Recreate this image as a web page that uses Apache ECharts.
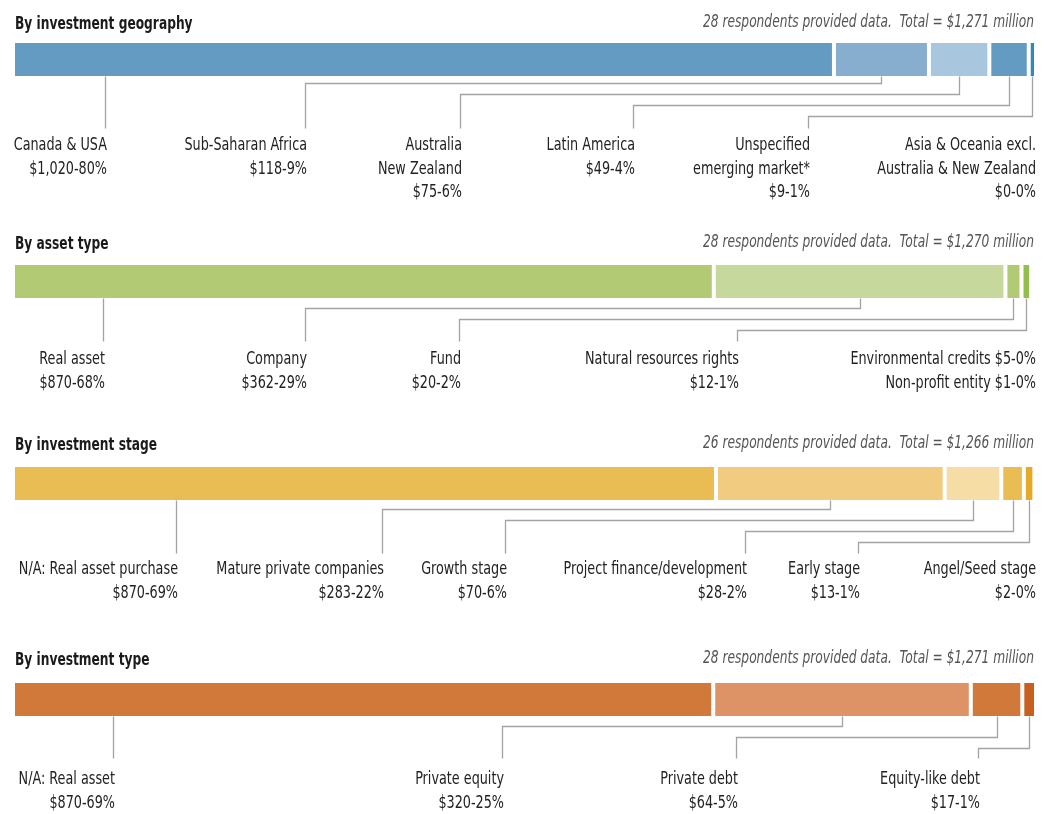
<!DOCTYPE html>
<html>
<head>
<meta charset="utf-8">
<script src="https://cdn.jsdelivr.net/npm/echarts@6/dist/echarts.min.js"></script>
<style>
  html, body { margin: 0; padding: 0; background: #fff; }
  #main { width: 1050px; height: 814px; }
</style>
</head>
<body>
<div id="main"></div>
<script>
// --- data ---
const geoNames = ['Canada & USA', 'Sub-Saharan Africa', 'Australia\nNew Zealand', 'Latin America', 'Unspecified\nemerging market*', 'Asia & Oceania excl.\nAustralia & New Zealand'];
const geoValues = [1020, 118, 75, 49, 9, 0];
const geoShares = [80, 9, 6, 4, 1, 0];

const assetNames = ['Real asset', 'Company', 'Fund', 'Natural resources rights', 'Environmental credits', 'Non-profit entity'];
const assetValues = [870, 362, 20, 12, 5, 1];
const assetShares = [68, 29, 2, 1, 0, 0];

const stageNames = ['N/A: Real asset purchase', 'Mature private companies', 'Growth stage', 'Project finance/development', 'Early stage', 'Angel/Seed stage'];
const stageValues = [870, 283, 70, 28, 13, 2];
const stageShares = [69, 22, 6, 2, 1, 0];

const typeNames = ['N/A: Real asset', 'Private equity', 'Private debt', 'Equity-like debt'];
const typeValues = [870, 320, 64, 17];
const typeShares = [69, 25, 5, 1];

const respondents = [28, 28, 26, 28];
const totals = [1271, 1270, 1266, 1271];

// --- styles / layout ---
const geoColors = ['#649bc3', '#87aecf', '#a9c6df', '#649bc3', '#2f89bc', '#2f89bc'];
const assetColors = ['#b2ca74', '#c6d89b', '#b2ca74', '#94bd4a', '#94bd4a', '#94bd4a'];
const stageColors = ['#eabc54', '#f0cb80', '#f6dca5', '#eabc54', '#e6ab26', '#e6ab26'];
const typeColors = ['#d1783b', '#de9366', '#d1783b', '#c6601e'];

// which segments share one label, and where each label sits (right edge, px)
const geoGroups = [[0], [1], [2], [3], [4], [5]];
const geoLabelX = [105, 305, 460, 633, 808, 1034];
const assetGroups = [[0], [1], [2], [3], [4, 5]];
const assetLabelX = [103, 305, 459, 737, 1034];
const stageGroups = [[0], [1], [2], [3], [4], [5]];
const stageLabelX = [176, 382, 505, 745, 858, 1034];
const typeGroups = [[0], [1], [2], [3]];
const typeLabelX = [113, 502, 736, 978];

// no condensed face installed -> squeeze DejaVu Sans Condensed a bit
const FONT = "'DejaVu Sans Condensed', 'Liberation Sans Narrow', sans-serif";
const LABEL_SX = 0.79, TITLE_SX = 0.755, SUB_SX = 0.80;
// bar border is drawn inside the rect, so 2px each side -> 4px white gap
const LEFT = 15, RIGHT = 1034, BAR_H = 33, BORDER = 2;

const panels = [
  { title: 'By investment geography', names: geoNames, values: geoValues, shares: geoShares, colors: geoColors,
    groups: geoGroups, labelX: geoLabelX, lastLine: false, titleTop: 12, barTop: 43, elbow0: 7, lineEnd: 128, textTop: 134 },
  { title: 'By asset type', names: assetNames, values: assetValues, shares: assetShares, colors: assetColors,
    groups: assetGroups, labelX: assetLabelX, lastLine: false, titleTop: 232, barTop: 265, elbow0: 10, lineEnd: 341, textTop: 348 },
  { title: 'By investment stage', names: stageNames, values: stageValues, shares: stageShares, colors: stageColors,
    groups: stageGroups, labelX: stageLabelX, lastLine: false, titleTop: 433, barTop: 467, elbow0: 9, lineEnd: 553, textTop: 558 },
  { title: 'By investment type', names: typeNames, values: typeValues, shares: typeShares, colors: typeColors,
    groups: typeGroups, labelX: typeLabelX, lastLine: true, titleTop: 648, barTop: 683, elbow0: 10, lineEnd: 758, textTop: 768 }
];

function money(v) { return '$' + v.toLocaleString('en-US'); }

const chart = echarts.init(document.getElementById('main'), null, { renderer: 'canvas' });

const grid = [], xAxis = [], yAxis = [], series = [], texts = [];

panels.forEach(function (p, i) {
  grid.push({ left: LEFT - BORDER, width: RIGHT - LEFT + 2 * BORDER, top: p.barTop - BORDER, height: BAR_H + 2 * BORDER });
  xAxis.push({ type: 'value', gridIndex: i, min: 0, max: totals[i], show: false });
  yAxis.push({ type: 'category', gridIndex: i, data: [''], show: false });

  texts.push({
    type: 'text', x: LEFT, y: p.titleTop + 3, scaleX: TITLE_SX,
    style: { text: p.title, font: 'bold 18px ' + FONT, fill: '#1a1a1a', verticalAlign: 'top' }
  });
  texts.push({
    type: 'text', x: RIGHT, y: p.titleTop + 2, scaleX: SUB_SX,
    style: {
      text: respondents[i] + ' respondents provided data.  Total = ' + money(totals[i]) + ' million',
      font: 'italic 17px ' + FONT, fill: '#555', align: 'right', verticalAlign: 'top'
    }
  });

  // stacked segments
  const starts = [];
  let acc = 0;
  p.values.forEach(function (v, k) {
    starts.push(acc);
    acc += v;
    series.push({
      type: 'bar', stack: 'p' + i, xAxisIndex: i, yAxisIndex: i,
      barWidth: '100%', silent: true,
      data: [v],
      itemStyle: { color: p.colors[k], borderColor: '#fff', borderWidth: BORDER }
    });
  });

  // leader lines and labels
  const items = p.groups.map(function (g) {
    const k = g[0];
    return [starts[k] + p.values[k] / 2, 0];
  });

  series.push({
    type: 'custom', xAxisIndex: i, yAxisIndex: i, clip: false, silent: true, z: 5,
    encode: { x: 0, y: 1 },
    data: items,
    renderItem: function (params, api) {
      const gi = params.dataIndex;
      const g = p.groups[gi];
      const lx = p.labelX[gi];
      const cs = params.coordSys;
      const bottom = cs.y + cs.height - BORDER;
      const children = [];
      const isLast = gi === p.groups.length - 1;
      const k0 = g[0];
      const segStart = api.coord([starts[k0], 0])[0];
      const segEnd = api.coord([starts[k0] + p.values[k0], 0])[0];
      if (!isLast || p.lastLine) {
        let pts;
        if (lx >= segStart && lx <= segEnd) {
          pts = [[lx, bottom], [lx, p.lineEnd]];
        } else {
          const sx = api.coord([api.value(0), 0])[0];
          const ey = bottom + p.elbow0 + 11 * (gi - 1);
          pts = [[sx, bottom], [sx, ey], [lx, ey], [lx, p.lineEnd]];
        }
        children.push({
          type: 'polyline',
          shape: { points: pts.map(function (q) { return [Math.round(q[0]) + 0.5, Math.round(q[1]) + 0.5]; }) },
          style: { stroke: '#a3a3a3', lineWidth: 1.3, fill: null }
        });
      }
      let text;
      if (g.length > 1) {
        text = g.map(function (k) { return p.names[k] + ' ' + money(p.values[k]) + '-' + p.shares[k] + '%'; }).join('\n');
      } else {
        const k = g[0];
        text = p.names[k] + '\n' + money(p.values[k]) + '-' + p.shares[k] + '%';
      }
      children.push({
        type: 'text', x: lx + 2, y: p.textTop, scaleX: LABEL_SX,
        style: {
          text: text, x: 0, y: 0, align: 'right', verticalAlign: 'top',
          font: '18px ' + FONT, lineHeight: 23.5, fill: '#222'
        }
      });
      return { type: 'group', children: children };
    }
  });
});

chart.setOption({
  animation: false,
  backgroundColor: '#fff',
  graphic: { elements: texts },
  grid: grid,
  xAxis: xAxis,
  yAxis: yAxis,
  series: series
});
</script>
</body>
</html>
